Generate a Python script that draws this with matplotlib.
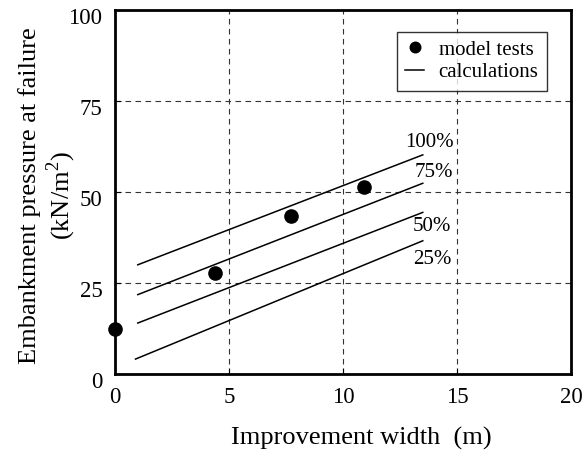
import numpy as np
import matplotlib.pyplot as plt
from matplotlib.transforms import ScaledTranslation

plt.rcParams['font.family'] = ['Liberation Serif', 'DejaVu Serif']
plt.rcParams['mathtext.fontset'] = 'custom'
plt.rcParams['mathtext.rm'] = 'Liberation Serif'

# model tests
test_x = [0.0, 4.4, 7.7, 10.9]
test_y = [12.5, 27.8, 43.4, 51.5]

# calculated lines (start / end points)
calc_labels = ['100%', '75%', '50%', '25%']
calc_x = [[1.0, 13.5], [1.0, 13.5], [1.0, 13.5], [0.9, 13.5]]
calc_y = [[30.0, 60.2], [21.8, 52.4], [14.0, 44.4], [4.1, 36.6]]
label_pos = [(13.8, 63.5), (14.0, 55.3), (13.9, 40.6), (13.9, 31.4)]

fig = plt.figure(figsize=(5.86, 4.54), dpi=100)
ax = fig.add_axes([0.1962, 0.1762, 0.7782, 0.8018])

for i, (xs, ys) in enumerate(zip(calc_x, calc_y)):
    ax.plot(xs, ys, color='black', lw=1.1,
            label='calculations' if i == 0 else None)
    ax.text(label_pos[i][0], label_pos[i][1], calc_labels[i],
            fontsize=15, ha='center', va='center')

ax.plot(test_x, test_y, 'o', color='black', ms=9.5, clip_on=False,
        label='model tests', zorder=5)

ax.set_xlim(0, 20)
ax.set_ylim(0, 100)
ax.set_xticks([0, 5, 10, 15, 20])
ax.set_yticks([0, 25, 50, 75, 100])
ax.tick_params(direction='in', length=4, width=0.8, labelsize=16.5, pad=9)
ax.grid(True, color='#333333', ls=(0, (5, 4)), lw=0.8)
for s in ax.spines.values():
    s.set_linewidth(2)

shift = ScaledTranslation(0, -4 / 72, fig.dpi_scale_trans)
for lab in ax.get_yticklabels():
    lab.set_transform(lab.get_transform() + shift)

ax.set_xlabel('Improvement width  (m)', fontsize=19)
ax.xaxis.set_label_coords(0.54, -0.145)
ax.set_ylabel('Embankment pressure at failure\n(kN/m$^2$)', fontsize=19,
              linespacing=1.15)
ax.yaxis.set_label_coords(-0.081, 0.49)

h, l = ax.get_legend_handles_labels()
leg = ax.legend(h[::-1], l[::-1], loc='upper right', bbox_to_anchor=(0.947, 0.94),
                borderaxespad=0, fontsize=15, frameon=True, fancybox=False,
                edgecolor='black', handlelength=0.9, handletextpad=0.7,
                borderpad=0.4, labelspacing=0.15, markerscale=0.8)
leg.get_frame().set_linewidth(1.0)

fig.savefig('out.png', dpi=100)
